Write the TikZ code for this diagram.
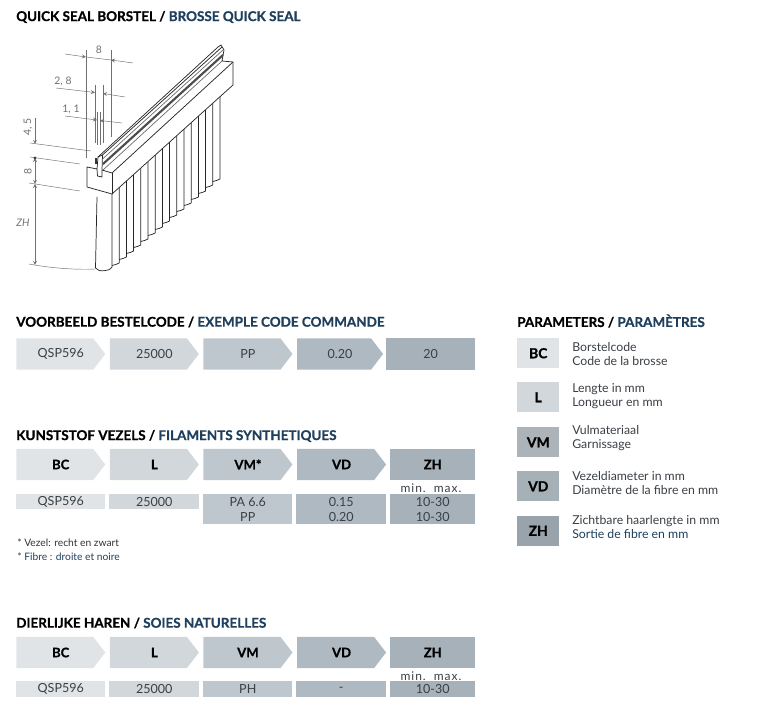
\documentclass[tikz,border=0pt]{standalone}
\usepackage{fontspec}
\setmainfont{Lato}[BoldFeatures={FakeBold=0.8}]
\usetikzlibrary{shapes.symbols, positioning, arrows}
\definecolor{navy}{HTML}{1F3F5C}
\definecolor{bodytext}{HTML}{3A3F44}
\definecolor{colbc}{HTML}{E0E4E6}
\definecolor{coll}{HTML}{D1D7DB}
\definecolor{colvm}{HTML}{BFC7CE}
\definecolor{colvd}{HTML}{AFB9C1}
\definecolor{colzh}{HTML}{A6B1BA}
\definecolor{dimline}{HTML}{707070}
\tikzstyle{title} = [anchor=west, inner sep=0pt, font=\fontsize{10.1pt}{12pt}\bfseries]
\tikzstyle{chevron} = [signal, signal to=east, signal pointer angle=105, inner sep=0pt, minimum width=66.75pt, minimum height=23.5pt, text=bodytext, font=\fontsize{9.4pt}{11pt}\selectfont, execute at begin node={\hspace*{9pt}}]
\tikzstyle{endbox} = [rectangle, inner sep=0pt, minimum height=23.5pt, text=bodytext, font=\fontsize{9.4pt}{11pt}\selectfont]
\tikzstyle{headcell} = [text=black, font=\fontsize{9.8pt}{11pt}\bfseries]
\tikzstyle{datacell} = [rectangle, inner sep=0pt, anchor=north west, text=bodytext, align=center, font=\fontsize{9.4pt}{11.2pt}\selectfont]
\tikzstyle{parambox} = [rectangle, inner sep=0pt, anchor=north west, minimum width=31.5pt, minimum height=22.5pt, text=black, font=\fontsize{10.4pt}{12pt}\bfseries]
\tikzstyle{paramtext} = [anchor=west, inner sep=0pt, align=left, text=bodytext, font=\fontsize{9.2pt}{10.7pt}\selectfont]
\tikzstyle{note} = [anchor=west, inner sep=0pt, font=\fontsize{7.7pt}{9pt}\selectfont]
\tikzstyle{minmax} = [inner sep=0pt, text=bodytext, font=\fontsize{9pt}{10pt}\addfontfeature{LetterSpace=8}]
\tikzstyle{dimtext} = [inner sep=0pt, text=dimline, font=\fontsize{7.8pt}{9pt}\selectfont]
\tikzstyle{dim} = [dimline, line width=0.35pt]
\tikzstyle{arrow} = [dimline, line width=0.35pt, <->, >=stealth]
\tikzstyle{brush} = [black!85, line width=0.55pt, line join=round]

\begin{document}
\begin{tikzpicture}[x=0.75pt, y=-0.75pt]
\useasboundingbox (0,0) rectangle (768,720);

% titles
\node (title1) [title] at (16,17) {QUICK SEAL BORSTEL / \textcolor{navy}{BROSSE QUICK SEAL}};
\node (title2) [title] at (16,322) {VOORBEELD BESTELCODE / \textcolor{navy}{EXEMPLE CODE COMMANDE}};
\node (title3) [title] at (16,436) {KUNSTSTOF VEZELS / \textcolor{navy}{FILAMENTS SYNTHETIQUES}};
\node (title4) [title] at (16,623) {DIERLIJKE HAREN / \textcolor{navy}{SOIES NATURELLES}};
\node (title5) [title] at (517,321) {PARAMETERS / \textcolor{navy}{PARAMÈTRES}};

% order code
\node (codebc) [chevron, fill=colbc, anchor=west] at (16,354) {QSP596};
\node (codel) [chevron, fill=coll, right=3pt of codebc] {25000};
\node (codevm) [chevron, fill=colvm, right=3pt of codel] {PP};
\node (codevd) [chevron, fill=colvd, right=3pt of codevm, minimum width=64.5pt] {0.20};
\node (codezh) [endbox, fill=colzh, right=1.8pt of codevd, minimum width=66.75pt] {20};

% synthetic filaments
\node (synbc) [chevron, headcell, fill=colbc, anchor=west] at (16,464.5) {BC};
\node (synl) [chevron, headcell, fill=coll, right=3pt of synbc] {L};
\node (synvm) [chevron, headcell, fill=colvm, right=3pt of synl] {VM*};
\node (synvd) [chevron, headcell, fill=colvd, right=3pt of synvm] {VD};
\node (synzh) [endbox, headcell, fill=colzh, right=2.7pt of synvd, minimum width=63.75pt] {ZH};
\node (synminmax) [minmax] at (431,488) {min.\ \ max.};
\node (syndatabc) [datacell, fill=colbc, minimum width=66.75pt, minimum height=11.25pt] at (16,494) {QSP596};
\node (syndatal) [datacell, fill=coll, minimum width=67.5pt, minimum height=11.25pt] at (109,494) {25000};
\node (syndatavm) [datacell, fill=colvm, minimum width=66.75pt, minimum height=22.5pt] at (203,494) {PA 6.6\\PP};
\node (syndatavd) [datacell, fill=colvd, minimum width=67.5pt, minimum height=22.5pt] at (296,494) {0.15\\0.20};
\node (syndatazh) [datacell, fill=colzh, minimum width=63.75pt, minimum height=22.5pt] at (390,494) {10-30\\10-30};
\node (note1) [note, text=black!80] at (17,543) {* Vezel: recht en zwart};
\node (note2) [note, text=navy] at (17,557) {* Fibre : droite et noire};

% natural bristles
\node (natbc) [chevron, headcell, fill=colbc, anchor=west] at (16,652.5) {BC};
\node (natl) [chevron, headcell, fill=coll, right=3pt of natbc] {L};
\node (natvm) [chevron, headcell, fill=colvm, right=3pt of natl] {VM};
\node (natvd) [chevron, headcell, fill=colvd, right=3pt of natvm] {VD};
\node (natzh) [endbox, headcell, fill=colzh, right=2.7pt of natvd, minimum width=63.75pt] {ZH};
\node (natminmax) [minmax] at (431,676) {min.\ \ max.};
\node (natdatabc) [datacell, fill=colbc, minimum width=66.75pt, minimum height=12pt] at (16,681) {QSP596};
\node (natdatal) [datacell, fill=coll, minimum width=67.5pt, minimum height=12pt] at (109,681) {25000};
\node (natdatavm) [datacell, fill=colvm, minimum width=66.75pt, minimum height=12pt] at (203,681) {PH};
\node (natdatavd) [datacell, fill=colvd, minimum width=67.5pt, minimum height=12pt] at (296,681) {-};
\node (natdatazh) [datacell, fill=colzh, minimum width=63.75pt, minimum height=12pt] at (390,681) {10-30};

% parameters
\node (parbc) [parambox, fill=colbc] at (517,338) {BC};
\node (parl) [parambox, fill=coll] at (517,382) {L};
\node (parvm) [parambox, fill=colvm!90!black] at (517,427) {VM};
\node (parvd) [parambox, fill=colvd!95!black] at (517,471) {VD};
\node (parzh) [parambox, fill=colzh!92!black] at (517,515.5) {ZH};
\node (txtbc) [paramtext] at (572,354) {Borstelcode\\Code de la brosse};
\node (txtl) [paramtext] at (572,396) {Lengte in mm\\Longueur en mm};
\node (txtvm) [paramtext] at (572,438) {Vulmateriaal\\Garnissage};
\node (txtvd) [paramtext] at (572,483) {Vezeldiameter in mm\\Diamètre de la fibre en mm};
\node (txtzh) [paramtext] at (572,527) {Zichtbare haarlengte in mm\\\textcolor{navy}{Sortie de fibre en mm}};

% bristles
\draw [brush] (97,197) -- (95.5,268) .. controls (98,272) and (109,272) .. (112,267) -- (112,193);
\foreach \i in {1,...,15} {
  \pgfmathsetmacro{\xa}{112+7.2*(\i-1)}
  \pgfmathsetmacro{\xb}{112+7.2*\i}
  \pgfmathsetmacro{\yb}{265-6*(\i-1)}
  \pgfmathsetmacro{\yt}{194-0.9*(\xb-112)}
  \draw [brush] (\xa,\yb+0.5) .. controls (\xa+3,\yb) and (\xb-2,\yb-1) .. (\xb,\yb-2) -- (\xb,\yt);
}

% block and rail
\draw [brush, fill=white] (87,167) -- (97,169) -- (98,157) -- (218,47) -- (221,45) -- (224,50) -- (222,61) -- (233,62) -- (233,85) -- (112,194) -- (87,187) -- cycle;
\draw [brush] (112,173) -- (112,194);
\draw [brush] (102,170) -- (112,173) -- (233,62);
\draw [brush] (97,169) -- (97.5,176) -- (102,177) -- (102,170) -- (102.5,155);
\draw [brush] (98,157) -- (102.5,155) -- (222,47);
\draw [black!60, line width=0.5pt] (102.5,159) -- (223,50);
\draw [black!70, line width=1.6pt] (103,164) -- (223,55);
\draw [black!60, line width=0.5pt] (103,170) -- (222,61);
\draw [black!80, line width=1.5pt] (96,158) -- (96,164);

% dimensions
\draw [dim] (86,50) -- (86,158);
\draw [dim] (111,50) -- (111,137);
\draw [dim] (95,85) -- (95,143);
\draw [dim] (103,85) -- (103,143);
\draw [dim] (97,112) -- (97,145);
\draw [dim] (100,112) -- (100,145);
\draw [dim, -stealth] (65,54) -- (86,57);
\draw [dim, -stealth] (133,63) -- (111,60);
\draw [dim] (86,57) -- (111,60);
\draw [dim, -stealth] (56,88) -- (95,92.5);
\draw [dim, -stealth] (125,97) -- (103,93.5);
\draw [dim, -stealth] (65,116) -- (97,120);
\draw [dim, -stealth] (122,123) -- (100,120.5);
\draw [dim] (30,143) -- (91,151);
\draw [dim] (30,157) -- (80,164);
\draw [dim] (29,183) -- (80,191);
\draw [dim] (29,264) .. controls (50,268) and (75,270) .. (95,269);
\draw [dim, -stealth] (35,118) -- (35,144);
\draw [arrow] (35,158) -- (35,184);
\draw [arrow] (35,184) -- (35,265);
\fill [dimline!60!black] (35,158) circle (1.6);
\node (dim8a) [dimtext] at (99,50) {8};
\node (dim28) [dimtext] at (63,81) {2, 8};
\node (dim11) [dimtext] at (71,109) {1, 1};
\node (dim45) [dimtext, rotate=90] at (28,127) {4, 5};
\node (dim8b) [dimtext, rotate=90] at (28,171) {8};
\node (dimzh) [dimtext] at (23,223) {\itshape ZH};
\end{tikzpicture}
\end{document}
